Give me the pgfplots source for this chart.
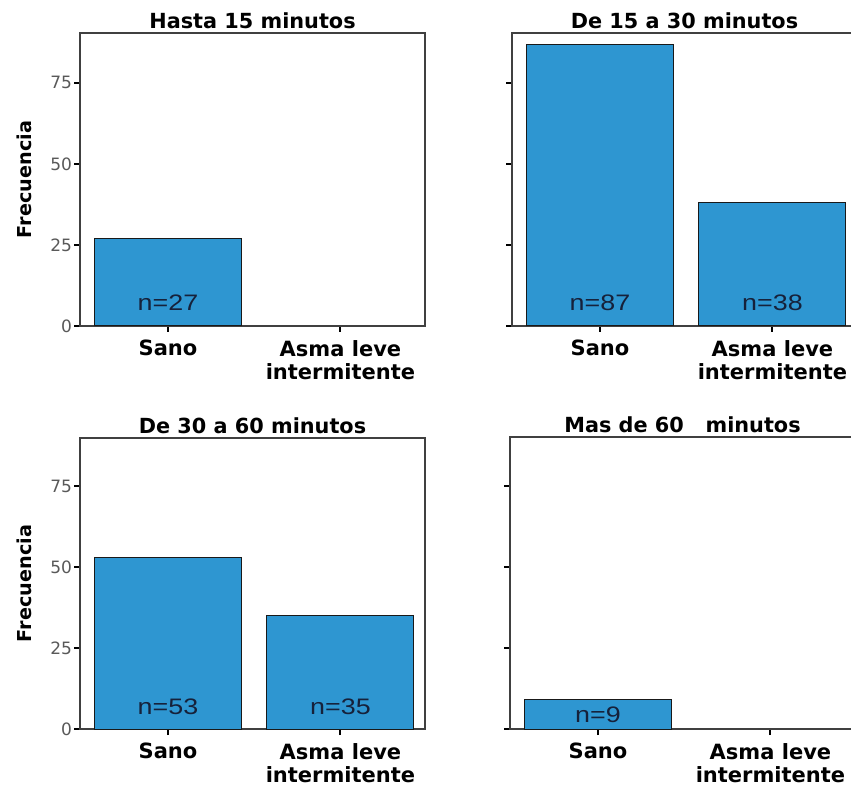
\documentclass[border=0pt]{standalone}
\usepackage{fontspec}
\setmainfont{DejaVu Sans}
\newfontfamily\nfont{Liberation Sans}
\usepackage{pgfplots}
\pgfplotsset{compat=1.18}

\definecolor{barblue}{HTML}{2E96D1}
\definecolor{nlabel}{HTML}{16213A}

\newcommand{\nlab}[1]{{\nfont\fontsize{11.2}{13}\selectfont\scalebox{1.2}[1]{#1}}}

\pgfplotsset{
  panel/.style={
    scale only axis,
    width=172.5pt,
    anchor=south west,
    xmin=-0.51, xmax=1.49,
    ymin=0,
    xtick={0,1},
    xticklabels={Sano,{Asma leve\\intermitente}},
    ytick={0,25,50,75},
    xtick pos=bottom, ytick pos=left,
    tick align=outside,
    major tick length=3pt,
    tick style={black, line width=1pt},
    axis line style={black!75, line width=0.6pt},
    /pgf/number format/assume math mode=true,
    yticklabel style={font=\fontsize{8.5}{10}\selectfont, text=black!65, inner sep=0.8pt},
    xticklabel style={font=\bfseries\fontsize{10.5}{11.5}\selectfont, align=center,
                      text=black, yshift=-0.5pt},
    title style={font=\bfseries\fontsize{10.4}{12}\selectfont, at={(axis description cs:0.5,1)},
                 anchor=south, inner sep=0pt, yshift=-4pt},
    ylabel style={font=\bfseries\fontsize{9.6}{11}\selectfont, at={(axis description cs:-0.16,0.5)},
                  anchor=center},
  },
  bars/.style={ybar, bar width=73.5pt, fill=barblue, draw=black!90, line width=0.5pt, mark=none},
}

\begin{document}
\begin{tikzpicture}
\path[use as bounding box] (0,0) rectangle (425.5pt,393.5pt);
\clip (0,0) rectangle (425.5pt,393.5pt);

% Hasta 15 minutos
\begin{axis}[panel, at={(40pt,230.5pt)}, height=146.5pt, ymax=90.4,
  title={Hasta 15 minutos}, ylabel={Frecuencia}]
  \addplot[bars] coordinates {(0,27)};
  \node[text=nlabel] at (axis cs:0,7.1) {\nlab{n=27}};
\end{axis}

% De 15 a 30 minutos
\begin{axis}[panel, at={(256pt,230.5pt)}, height=146.5pt, ymax=90.4,
  title={De 15 a 30 minutos}, yticklabels={}]
  \addplot[bars] coordinates {(0,87) (1,38)};
  \node[text=nlabel] at (axis cs:0,7.1) {\nlab{n=87}};
  \node[text=nlabel] at (axis cs:1,7.1) {\nlab{n=38}};
\end{axis}

% De 30 a 60 minutos
\begin{axis}[panel, at={(40pt,29pt)}, height=145.5pt, ymax=89.8,
  title={De 30 a 60 minutos}, ylabel={Frecuencia}]
  \addplot[bars] coordinates {(0,53) (1,35)};
  \node[text=nlabel] at (axis cs:0,6.8) {\nlab{n=53}};
  \node[text=nlabel] at (axis cs:1,6.8) {\nlab{n=35}};
\end{axis}

% Mas de 60 minutos
\begin{axis}[panel, at={(255pt,29pt)}, height=146pt, ymax=90,
  title={Mas de 60\ \ \ minutos}, yticklabels={}]
  \addplot[bars] coordinates {(0,9)};
  \node[text=nlabel] at (axis cs:0,4.4) {\nlab{n=9}};
\end{axis}
\end{tikzpicture}
\end{document}
